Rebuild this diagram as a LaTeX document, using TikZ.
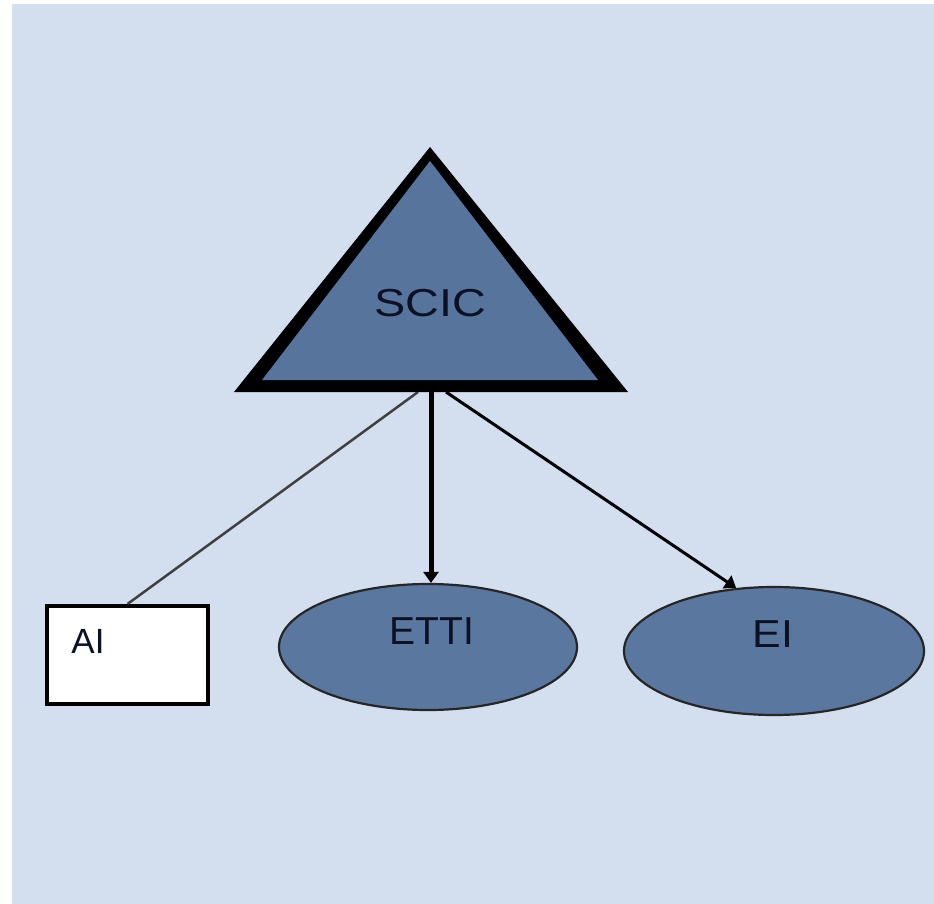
\documentclass[tikz,border=0pt]{standalone}
\usepackage{graphicx}
\usepackage{fontspec}
\setmainfont{Liberation Sans}
\usetikzlibrary{arrows.meta,shapes.geometric}
\definecolor{bg}{HTML}{D3DEEE}
\definecolor{nodefill}{HTML}{56749C}
\definecolor{ellfill}{HTML}{5A789F}
\definecolor{txt}{HTML}{0C1224}
\begin{document}
\begin{tikzpicture}[x=1pt,y=-1pt,
  ell/.style={ellipse, draw=black!85, line width=2.2pt, fill=ellfill, inner sep=0pt},
  lbl/.style={font=\fontsize{39}{39}\selectfont, text=txt, inner sep=0pt},
  conn/.style={line width=#1, draw=black, -{Triangle[length=11pt,width=15pt]}},
  plain/.style={line width=2.5pt, draw=black!75}]
\useasboundingbox (0,0) rectangle (934,904);
\fill[bg] (12,4) rectangle (934,904);
% nodes
\node[ell, minimum width=298pt, minimum height=126pt] (etti) at (428,647) {};
\node[ell, minimum width=300pt, minimum height=128pt] (ei) at (774,651) {};
\node[draw=black, line width=4pt, fill=white, minimum width=161pt, minimum height=98pt, inner sep=0pt] (ai) at (127.5,655) {};
% triangle corners
\coordinate (oa) at (430,147);
\coordinate (ol) at (234,392);
\coordinate (or) at (628,392);
\coordinate (ia) at (430,161);
\coordinate (il) at (262,380);
\coordinate (ir) at (598,380);
\coordinate (s1) at (418,392);
\coordinate (s2) at (431,392);
\coordinate (s3) at (446,392);
% connectors
\draw[plain] (s1) -- (ai.north);
\draw[conn=5pt] (s2) -- (s2 |- etti.north);
\draw[conn=3pt] (s3) -- (ei.121);
% triangle
\fill[black] (oa) -- (or) -- (ol) -- cycle;
\fill[nodefill] (ia) -- (ir) -- (il) -- cycle;
% labels
\node[lbl] (scic) at (430,303) {\scalebox{1.2}[1]{SCIC}};
\node[lbl] (ettil) at (432,631) {ETTI};
\node[lbl] (eil) at (773,634) {\scalebox{1.1}[1]{EI}};
\node[lbl, font=\fontsize{35}{35}\selectfont] (ail) at (88,641) {AI};
\end{tikzpicture}
\end{document}
